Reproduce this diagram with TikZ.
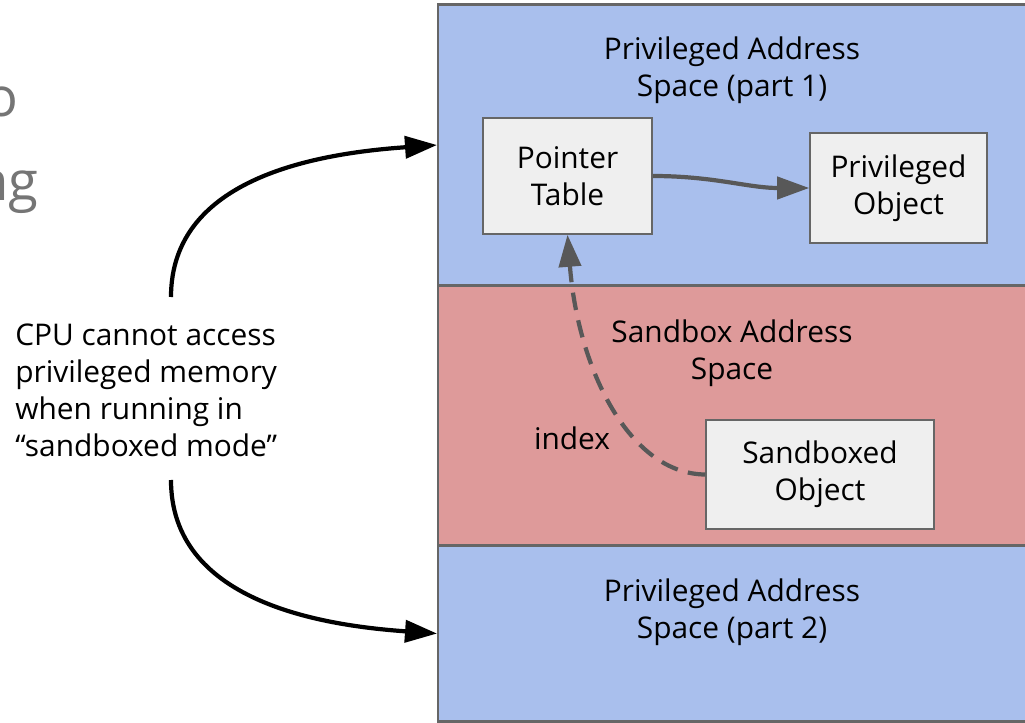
\documentclass[tikz,border=0pt]{standalone}
\usepackage{fontspec}
\setmainfont{Open Sans}
\usetikzlibrary{arrows.meta}
\definecolor{privblue}{RGB}{169,191,237}
\definecolor{sandred}{RGB}{222,154,154}
\definecolor{boxgray}{RGB}{239,239,239}
\definecolor{edgegray}{RGB}{102,102,102}
\definecolor{linkgray}{RGB}{88,88,88}
\definecolor{slidegray}{RGB}{117,117,117}
\begin{document}
\begin{tikzpicture}[x=0.02cm,y=-0.02cm,inner sep=0pt,
  font=\fontsize{17}{21}\selectfont,
  region/.style={draw=edgegray,line width=1.2pt,anchor=north west,minimum width=12.2cm},
  obj/.style={draw=edgegray,line width=0.9pt,fill=boxgray,align=center},
  tip/.style={-{Triangle[length=0.64cm,width=0.44cm]}},
  link/.style={linkgray,line width=2.4pt,tip}]
\useasboundingbox (0,0) rectangle (1025,723);

\node[slidegray,font=\fontsize{31}{37}\selectfont,anchor=base east] (s1) at (19,117) {o};
\node[slidegray,font=\fontsize{31}{37}\selectfont,anchor=base east] (s2) at (39,200) {ng};

\node[region,fill=privblue,minimum height=5.62cm] (priv1) at (437,3.5) {};
\node[region,fill=sandred,minimum height=5.2cm] (sand) at (437,284.5) {};
\node[region,fill=privblue,minimum height=3.52cm] (priv2) at (437,544.5) {};

\node[align=center] (t1) at (732,70) {Privileged Address\\Space (part 1)};
\node[align=center] (t2) at (732,353) {Sandbox Address\\Space};
\node[align=center] (t3) at (732,612) {Privileged Address\\Space (part 2)};

\node[obj,minimum width=3.38cm,minimum height=2.32cm] (ptab) at (567.5,176) {Pointer\\Table};
\node[obj,minimum width=3.54cm,minimum height=2.2cm] (pobj) at (898.5,188) {Privileged\\Object};
\node[obj,minimum width=4.56cm,minimum height=2.18cm] (sobj) at (820,474.5) {Sandboxed\\Object};
\node (idx) at (572,438) {index};

\node[align=left,anchor=west] (cpu) at (15,390) {CPU cannot access\\privileged memory\\when running in\\“sandboxed mode”};
\coordinate (up) at (171,297);
\coordinate (down) at (171,480);

\draw[line width=2.4pt,tip] (up) to[out=90,in=184] (priv1.west);
\draw[line width=2.4pt,tip] (down) to[out=-90,in=176] (priv2.west);

\draw[link] (ptab.east) to[out=0,in=180] (pobj.west);
\draw[link,dash pattern=on 10pt off 6pt] (sobj.west) .. controls (630,474) and (578,370) .. (ptab.south);
\end{tikzpicture}
\end{document}
